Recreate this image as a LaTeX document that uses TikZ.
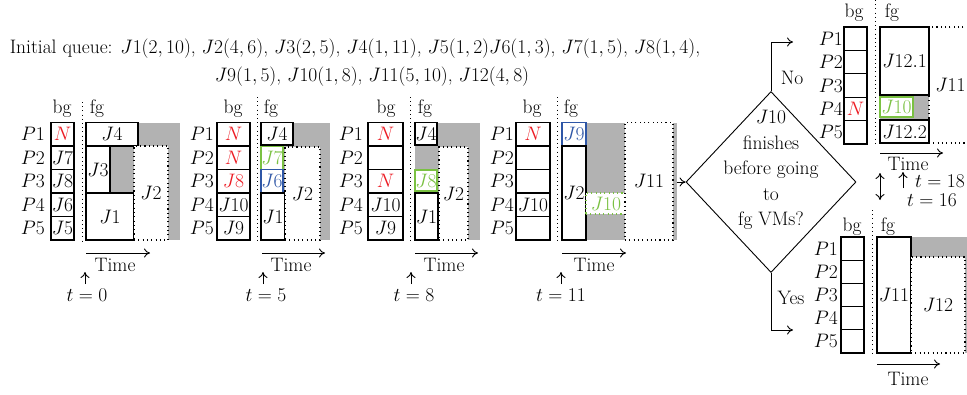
\RequirePackage{fix-cm}
\documentclass[tikz,border=0pt]{standalone}
\usetikzlibrary{arrows.meta,shapes.geometric}
\definecolor{greyfill}{RGB}{178,178,178}
\definecolor{nred}{RGB}{237,28,36}
\definecolor{jgreen}{RGB}{122,193,66}
\definecolor{jblue}{RGB}{46,86,166}
\newcommand{\mybox}[7]{\node[#6, minimum width={(#4)-(#2)}, minimum height={(#5)-(#3)}] (#1) at ({((#2)+(#4))/2},{((#3)+(#5))/2}) {#7};}
\newcommand{\plabels}[4]{\foreach \i in {1,...,5}{\node[anchor=base east, inner sep=0pt] (#1L\i) at (#2, {#3+(\i-1)*#4+6.5}) {$P\i$};}}
\tikzset{
  box/.style={draw, line width=1.1pt, fill=white, inner sep=0pt, outer sep=0pt},
  dbox/.style={box, dash pattern=on 1.1pt off 3.2pt},
  gbox/.style={box, draw=jgreen, text=jgreen},
  gdbox/.style={gbox, dash pattern=on 1.1pt off 3.2pt},
  bbox/.style={box, draw=jblue, text=jblue},
  rbox/.style={box, text=nred},
  sep/.style={line width=1pt, dash pattern=on 1pt off 3.2pt},
  tarr/.style={line width=0.9pt, -{To[length=6pt,width=9pt]}},
  darr/.style={line width=0.9pt, {To[length=6pt,width=9pt]}-{To[length=6pt,width=9pt]}},
  lbl/.style={inner sep=0pt},
  grey/.style={fill=greyfill}
}
\begin{document}
\begin{tikzpicture}[x=1pt,y=-1pt, font=\fontsize{19.5}{23}\selectfont]
\useasboundingbox (0,0) rectangle (967,394);

% header
\node[lbl] (head1) at (355,49) {Initial queue: $J1(2,10)$, $J2(4,6)$, $J3(2,5)$, $J4(1,11)$, $J5(1,2)J6(1,3)$, $J7(1,5)$, $J8(1,4)$,};
\node[lbl] (head2) at (372,77) {$J9(1,5)$, $J10(1,8)$, $J11(5,10)$, $J12(4,8)$};

% ---------- panel 1 (t=0)
\node[lbl, anchor=base] (abg) at (62,113) {bg};
\node[lbl, anchor=base] (afg) at (97,113) {fg};
\coordinate (aS1) at (82,102); \coordinate (aS2) at (82,243);
\draw[sep] (aS1) -- (aS2);
\plabels{a}{45}{134.25}{23.5}
\mybox{ab1}{51}{122.5}{74}{146}{rbox}{$N$}
\mybox{ab2}{51}{146}{74}{169.5}{box}{$J7$}
\mybox{ab3}{51}{169.5}{74}{193}{box}{$J8$}
\mybox{ab4}{51}{193}{74}{216.5}{box}{$J6$}
\mybox{ab5}{51}{216.5}{74}{240}{box}{$J5$}
\fill[grey] (86,122.5) rectangle (180,240);
\mybox{aJ4}{86}{122.5}{138}{146}{box}{$J4$}
\mybox{aJ3}{86}{146}{110}{193}{box}{$J3$}
\mybox{aJ1}{86}{193}{134}{240}{box}{$J1$}
\mybox{aJ2}{134}{146}{168}{240}{dbox}{$J2$}
\coordinate (aT1) at (86,253); \coordinate (aT2) at (150,253);
\draw[tarr] (aT1) -- (aT2);
\node[lbl] (aTime) at (115,265) {Time};
\node[lbl] (at) at (87,295) {$t=0$};
\coordinate (aU1) at (85,284); \coordinate (aU2) at (85,272);
\draw[tarr] (aU1) -- (aU2);

% ---------- panel 2 (t=5)
\node[lbl, anchor=base] (bbg) at (233,113) {bg};
\node[lbl, anchor=base] (bfg) at (271,113) {fg};
\coordinate (bS1) at (257,97); \coordinate (bS2) at (257,243);
\draw[sep] (bS1) -- (bS2);
\plabels{b}{214}{134.25}{23.5}
\mybox{bb1}{217}{122.5}{250}{146}{rbox}{$N$}
\mybox{bb2}{217}{146}{250}{169.5}{rbox}{$N$}
\mybox{bb3}{217}{169.5}{250}{193}{rbox}{$J8$}
\mybox{bb4}{217}{193}{250}{216.5}{box}{$J10$}
\mybox{bb5}{217}{216.5}{250}{240}{box}{$J9$}
\fill[grey] (261,122.5) rectangle (330,240);
\mybox{bJ4}{261}{122.5}{293}{145}{box}{$J4$}
\mybox{bJ7}{261}{146.5}{283}{169.5}{gbox}{$J7$}
\mybox{bJ6}{261}{169.5}{283}{192.5}{bbox}{$J6$}
\mybox{bJ1}{261}{193}{285}{240}{box}{$J1$}
\mybox{bJ2}{285}{147}{320}{240}{dbox}{$J2$}
\coordinate (bT1) at (262,253); \coordinate (bT2) at (325,253);
\draw[tarr] (bT1) -- (bT2);
\node[lbl] (bTime) at (291,265) {Time};
\node[lbl] (bt) at (266,295) {$t=5$};
\coordinate (bU1) at (263,284); \coordinate (bU2) at (263,272);
\draw[tarr] (bU1) -- (bU2);

% ---------- panel 3 (t=8)
\node[lbl, anchor=base] (cbg) at (386,113) {bg};
\node[lbl, anchor=base] (cfg) at (425,113) {fg};
\coordinate (cS1) at (410,97); \coordinate (cS2) at (410,243);
\draw[sep] (cS1) -- (cS2);
\plabels{c}{363}{134.25}{23.5}
\mybox{cb1}{368}{122.5}{403}{146}{rbox}{$N$}
\mybox{cb2}{368}{146}{403}{169.5}{box}{}
\mybox{cb3}{368}{169.5}{403}{193}{rbox}{$N$}
\mybox{cb4}{368}{193}{403}{216.5}{box}{$J10$}
\mybox{cb5}{368}{216.5}{403}{240}{box}{$J9$}
\fill[grey] (415,122.5) rectangle (480,240);
\mybox{cJ4}{415}{122.5}{437}{145}{box}{$J4$}
\mybox{cJ8}{415}{170}{437}{191}{gbox}{$J8$}
\mybox{cJ1}{415}{193}{438}{240}{box}{$J1$}
\mybox{cJ2}{439}{147}{468}{240}{dbox}{$J2$}
\coordinate (cT1) at (415,253); \coordinate (cT2) at (478,253);
\draw[tarr] (cT1) -- (cT2);
\node[lbl] (cTime) at (444,265) {Time};
\node[lbl] (ct) at (414,295) {$t=8$};
\coordinate (cU1) at (411,284); \coordinate (cU2) at (411,272);
\draw[tarr] (cU1) -- (cU2);

% ---------- panel 4 (t=11)
\node[lbl, anchor=base] (dbg) at (532,113) {bg};
\node[lbl, anchor=base] (dfg) at (571,113) {fg};
\coordinate (dS1) at (557,97); \coordinate (dS2) at (557,243);
\draw[sep] (dS1) -- (dS2);
\plabels{d}{514}{134.25}{23.5}
\mybox{db1}{516}{122.5}{550}{146}{rbox}{$N$}
\mybox{db2}{516}{146}{550}{169.5}{box}{}
\mybox{db3}{516}{169.5}{550}{193}{box}{}
\mybox{db4}{516}{193}{550}{216.5}{box}{$J10$}
\mybox{db5}{516}{216.5}{550}{240}{box}{}
\fill[grey] (562,122.5) rectangle (677,240);
\mybox{dJ9}{562}{122.5}{586}{146}{bbox}{$J9$}
\mybox{dJ2}{562}{146}{586}{240}{box}{$J2$}
\mybox{dJ10}{586}{193}{626}{214}{gdbox}{$J10$}
\mybox{dJ11}{625}{122.5}{673}{240}{dbox}{$J11$}
\coordinate (dT1) at (562,253); \coordinate (dT2) at (626,253);
\draw[tarr] (dT1) -- (dT2);
\node[lbl] (dTime) at (594,265) {Time};
\node[lbl] (dt) at (561,295) {$t=11$};
\coordinate (dU1) at (561,284); \coordinate (dU2) at (561,272);
\draw[tarr] (dU1) -- (dU2);

% ---------- decision
\node[diamond, draw, line width=0.9pt, inner sep=0pt, minimum width=170, minimum height=181] (dec) at (771,182) {};
\node[lbl, align=center, font=\fontsize{19.5}{25.5}\selectfont] (dectext) at (771,170) {$J10$\\finishes\\before going\\to\\fg VMs?};
\coordinate (dOut) at (677,182);
\draw[tarr] (dOut) -- (dec.west);
\coordinate (noEnd) at (793,42);
\coordinate (yesEnd) at (793,330);
\draw[tarr] (dec.north) |- (noEnd);
\draw[tarr] (dec.south) |- (yesEnd);
\node[lbl] (noLbl) at (792,78) {No};
\node[lbl] (yesLbl) at (791,298) {Yes};

% ---------- top-right panel (No)
\node[lbl, anchor=base] (ebg) at (854,17) {bg};
\node[lbl, anchor=base] (efg) at (892,17) {fg};
\coordinate (eS1) at (875,0); \coordinate (eS2) at (875,143);
\draw[sep] (eS1) -- (eS2);
\plabels{e}{843}{38.7}{23.4}
\mybox{eb1}{844}{27}{867}{50.4}{box}{}
\mybox{eb2}{844}{50.4}{867}{73.8}{box}{}
\mybox{eb3}{844}{73.8}{867}{97.2}{box}{}
\mybox{eb4}{844}{97.2}{867}{120.6}{rbox}{$N$}
\mybox{eb5}{844}{120.6}{867}{144}{box}{}
\fill[grey] (880,26) rectangle (930,143);
\mybox{eJ11}{929}{27}{972}{143}{dbox}{$J11$}
\mybox{eJ121}{880}{27}{929}{95}{box}{$J12.1$}
\mybox{eJ10}{880}{97}{913}{117}{gbox}{$J10$}
\mybox{eJ122}{880}{120}{929}{143}{box}{$J12.2$}
\coordinate (eT1) at (880,153); \coordinate (eT2) at (943,153);
\draw[tarr] (eT1) -- (eT2);
\node[lbl] (eTime) at (908,164) {Time};
\node[lbl] (et16) at (932,200) {$t=16$};
\node[lbl] (et18) at (940,181) {$t=18$};
\coordinate (eU1) at (903,188); \coordinate (eU2) at (903,172);
\draw[tarr] (eU1) -- (eU2);
\coordinate (eD1) at (880,173); \coordinate (eD2) at (880,200);
\draw[darr] (eD1) -- (eD2);

% ---------- bottom-right panel (Yes)
\node[lbl, anchor=base] (fbg) at (852,231) {bg};
\node[lbl, anchor=base] (ffg) at (888,231) {fg};
\coordinate (fS1) at (872,210); \coordinate (fS2) at (872,353);
\draw[sep] (fS1) -- (fS2);
\plabels{f}{838}{248.6}{23.2}
\mybox{fb1}{841}{237}{864}{260.2}{box}{}
\mybox{fb2}{841}{260.2}{864}{283.4}{box}{}
\mybox{fb3}{841}{283.4}{864}{306.6}{box}{}
\mybox{fb4}{841}{306.6}{864}{329.8}{box}{}
\mybox{fb5}{841}{329.8}{864}{353}{box}{}
\fill[grey] (911,237) rectangle (972,353);
\mybox{fJ11}{877}{237}{911}{353}{box}{$J11$}
\mybox{fJ12}{911}{257}{965}{353}{dbox}{$J12$}
\coordinate (fT1) at (877,364); \coordinate (fT2) at (940,364);
\draw[tarr] (fT1) -- (fT2);
\node[lbl] (fTime) at (908,379) {Time};
\end{tikzpicture}
\end{document}
